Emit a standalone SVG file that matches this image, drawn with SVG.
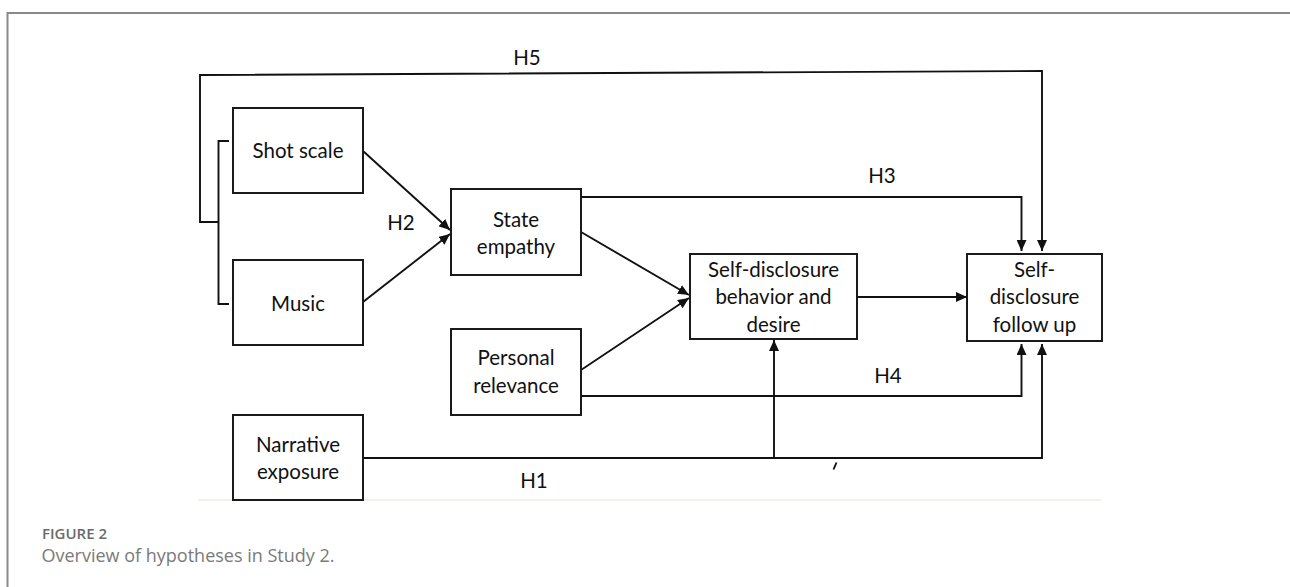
<svg xmlns="http://www.w3.org/2000/svg" width="1290" height="587" viewBox="0 0 1290 587">
<style>
.box{fill:#fff;stroke:#1a1a1a;stroke-width:2}
.lbl{font-family:Lato,"Liberation Sans",sans-serif;font-size:20.5px;fill:#111;text-anchor:middle}
.con{fill:none;stroke:#111;stroke-width:1.9}
.frame{fill:none;stroke:#8a8a8a;stroke-width:2}
.cap{font-family:"Open Sans","Liberation Sans",sans-serif}
</style>
<defs>
<marker id="ah" markerWidth="11" markerHeight="10" refX="11" refY="5" orient="auto" markerUnits="userSpaceOnUse">
<path d="M0,0 L11,5 L0,10 z" fill="#111"/>
</marker>
</defs>
<rect width="1290" height="587" fill="#fff"/>
<path class="frame" d="M7.5,587 V13 H1290"/>
<line x1="198" y1="500" x2="1101" y2="500" stroke="#f4f2e6" stroke-width="2"/>

<g id="connectors">
<path class="con" d="M229,141 H218.5 V304 H229"/>
<path class="con" d="M218.5,222 H200 V75 L1042,71 V251" marker-end="url(#ah)"/>
<path class="con" d="M363,151 L450,230" marker-end="url(#ah)"/>
<path class="con" d="M363,302 L450,234" marker-end="url(#ah)"/>
<path class="con" d="M581,197 H1021.5 V251" marker-end="url(#ah)"/>
<path class="con" d="M581,232 L689,295" marker-end="url(#ah)"/>
<path class="con" d="M581,370 L689,298" marker-end="url(#ah)"/>
<path class="con" d="M857,297 H967" marker-end="url(#ah)"/>
<path class="con" d="M581,396 H1021.5 V344" marker-end="url(#ah)"/>
<path class="con" d="M363,458 H1042 V344" marker-end="url(#ah)"/>
<path class="con" d="M774,458 V340" marker-end="url(#ah)"/>
<path class="con" d="M833.5,469.5 L836.5,462.5" stroke-width="2"/>
<text class="lbl" x="527" y="65">H5</text>
<text class="lbl" x="401" y="230">H2</text>
<text class="lbl" x="882" y="183">H3</text>
<text class="lbl" x="888" y="383">H4</text>
<text class="lbl" x="534" y="488">H1</text>
</g>

<g id="shot-scale">
<rect class="box" x="233" y="108" width="130" height="85"/>
<text class="lbl" x="298" y="158">Shot scale</text>
</g>
<g id="music">
<rect class="box" x="233" y="260" width="130" height="85"/>
<text class="lbl" x="298" y="310.5">Music</text>
</g>
<g id="state-empathy">
<rect class="box" x="451" y="189" width="130" height="86"/>
<text class="lbl" x="516" y="226.5">State</text>
<text class="lbl" x="516" y="253.5">empathy</text>
</g>
<g id="personal-relevance">
<rect class="box" x="451" y="329" width="130" height="86"/>
<text class="lbl" x="516" y="365">Personal</text>
<text class="lbl" x="516" y="392.5">relevance</text>
</g>
<g id="narrative-exposure">
<rect class="box" x="233" y="415" width="130" height="85"/>
<text class="lbl" x="298" y="451.5">Narrative</text>
<text class="lbl" x="298" y="479">exposure</text>
</g>
<g id="self-disclosure-behavior">
<rect class="box" x="690" y="254" width="167" height="85"/>
<text class="lbl" x="773.5" y="276.5">Self-disclosure</text>
<text class="lbl" x="773.5" y="304">behavior and</text>
<text class="lbl" x="773.5" y="331.5">desire</text>
</g>
<g id="self-disclosure-follow-up">
<rect class="box" x="967" y="254" width="135" height="87"/>
<text class="lbl" x="1034.5" y="277">Self-</text>
<text class="lbl" x="1034.5" y="304">disclosure</text>
<text class="lbl" x="1034.5" y="331.5">follow up</text>
</g>

<g id="caption">
<text class="cap" x="42" y="538.5" font-size="15px" font-weight="600" fill="#6b6b6b">FIGURE 2</text>
<text class="cap" x="41.5" y="562" font-size="18px" fill="#7a7a7a">Overview of hypotheses in Study 2.</text>
</g>
</svg>
